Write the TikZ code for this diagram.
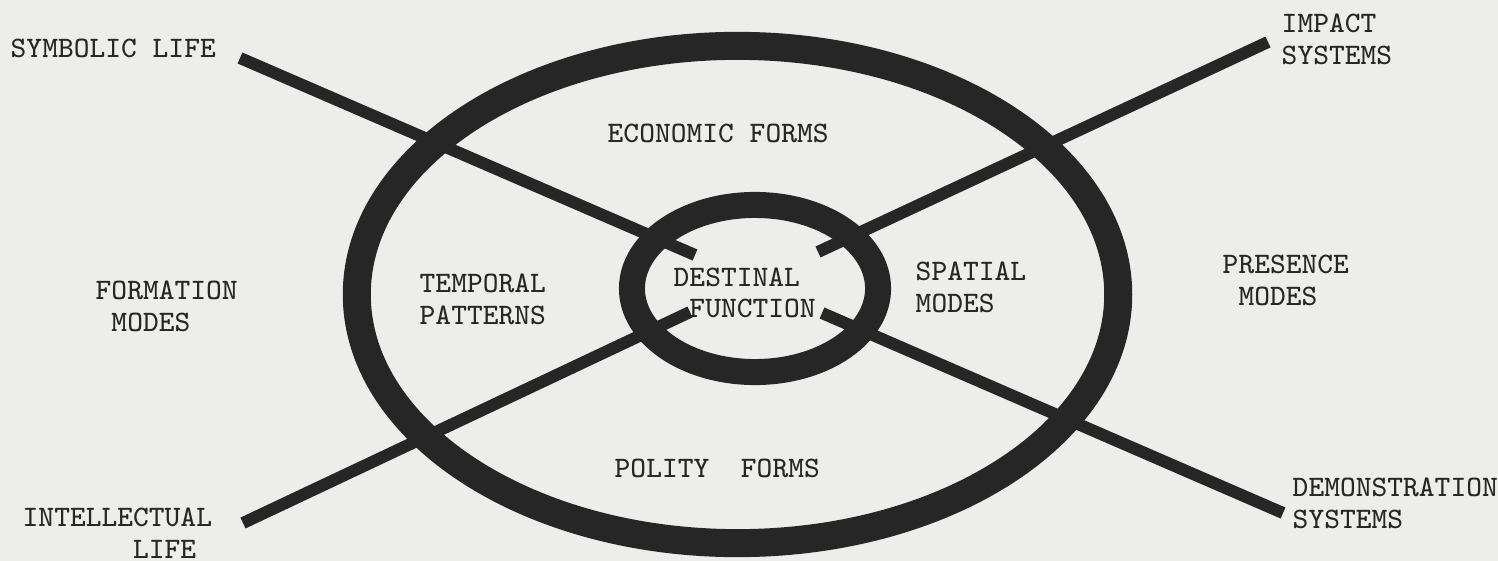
\documentclass[tikz,border=0pt]{standalone}
\usepackage{tikz}
\usetikzlibrary{shapes.geometric}
\definecolor{paper}{RGB}{237,237,235}
\definecolor{ink}{RGB}{38,38,38}
\newcommand{\typed}{\fontsize{8.45}{8.96}\selectfont\ttfamily}

\begin{document}
\begin{tikzpicture}[
  x=0.01cm, y=-0.01cm,
  lbl/.style={font=\typed, text=ink, inner sep=0pt, align=left, anchor=west},
  ring/.style={ellipse, draw=ink, inner sep=0pt, outer sep=0pt},
  spoke/.style={draw=ink, line width=0.12cm},
]

% ============================================================
% PAPER
% ============================================================
\fill[paper] (0,0) rectangle (1498,561);
\useasboundingbox (0,0) rectangle (1498,561);

% ============================================================
% RINGS
% ============================================================
\node[ring, line width=0.28cm, minimum width=7.61cm, minimum height=4.97cm] (outer) at (737.5,294.5) {};
\node[ring, line width=0.26cm, minimum width=2.46cm, minimum height=1.67cm] (inner) at (755,288.5) {};

% ============================================================
% SPOKES (outer labels -> destinal centre)
% ============================================================
\coordinate (symA) at (240,58);   \coordinate (symB) at (695,255);
\coordinate (impA) at (1268,42);  \coordinate (impB) at (818,252);
\coordinate (intA) at (243,523);  \coordinate (intB) at (690,312);
\coordinate (demA) at (1283,513); \coordinate (demB) at (822,313);
\draw[spoke] (symA) -- (symB);
\draw[spoke] (impA) -- (impB);
\draw[spoke] (intA) -- (intB);
\draw[spoke] (demA) -- (demB);

% ============================================================
% LABELS
% ============================================================
\node[lbl] (symb)  at (10,48.5)   {SYMBOLIC LIFE};
\node[lbl] (impact) at (1281,39.5) {IMPACT\\SYSTEMS};
\node[lbl] (form)  at (95,306.5)  {FORMATION\\~MODES};
\node[lbl] (temp)  at (419,299.5) {TEMPORAL\\PATTERNS};
\node[lbl] (econ)  at (607,133)   {ECONOMIC FORMS};
\node[lbl] (dest)  at (673,293)   {DESTINAL\\~FUNCTION};
\node[lbl] (spat)  at (915,287.5) {SPATIAL\\MODES};
\node[lbl] (pres)  at (1222,280.5) {PRESENCE\\~MODES};
\node[lbl] (pol)   at (614,468)   {POLITY~~FORMS};
\node[lbl] (intel) at (22,533)    {INTELLECTUAL\\~~~~~~~LIFE};
\node[lbl] (demo)  at (1292,503.5) {DEMONSTRATION\\SYSTEMS};

\end{tikzpicture}
\end{document}
